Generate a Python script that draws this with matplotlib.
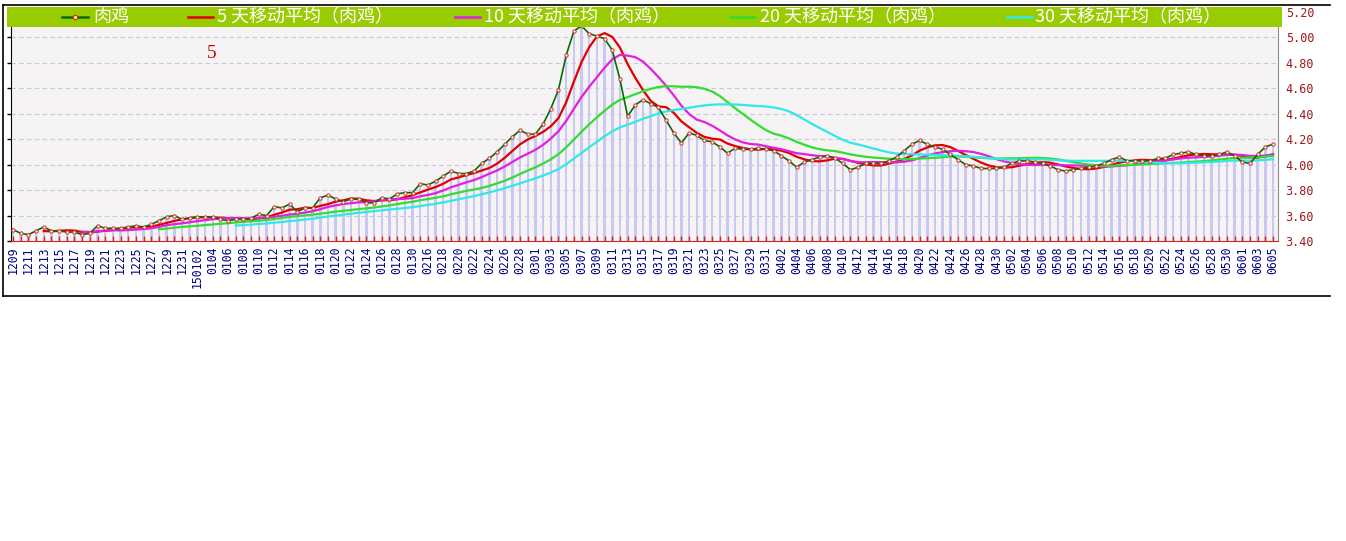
import matplotlib
matplotlib.use("Agg")
import matplotlib.pyplot as plt
from matplotlib.lines import Line2D
from matplotlib.patches import Rectangle
import numpy as np
import pandas as pd

# 日期标签（每隔一天显示一次）
labels = ["1209", "1211", "1213", "1215", "1217", "1219", "1221", "1223", "1225", "1227",
          "1229", "1231", "150102", "0104", "0106", "0108", "0110", "0112", "0114", "0116",
          "0118", "0120", "0122", "0124", "0126", "0128", "0130", "0216", "0218", "0220",
          "0222", "0224", "0226", "0228", "0301", "0303", "0305", "0307", "0309", "0311",
          "0313", "0315", "0317", "0319", "0321", "0323", "0325", "0327", "0329", "0331",
          "0402", "0404", "0406", "0408", "0410", "0412", "0414", "0416", "0418", "0420",
          "0422", "0424", "0426", "0428", "0430", "0502", "0504", "0506", "0508", "0510",
          "0512", "0514", "0516", "0518", "0520", "0522", "0524", "0526", "0528", "0530",
          "0601", "0603", "0605"]

# 肉鸡价格（元）
price = [3.49, 3.46, 3.45, 3.48, 3.51, 3.48, 3.48, 3.47, 3.47, 3.45,
         3.46, 3.52, 3.50, 3.50, 3.50, 3.51, 3.52, 3.51, 3.53, 3.56,
         3.59, 3.60, 3.57, 3.58, 3.59, 3.59, 3.59, 3.57, 3.56, 3.57,
         3.57, 3.58, 3.61,
         3.60, 3.67, 3.66, 3.69, 3.63, 3.66, 3.66, 3.74, 3.76, 3.73,
         3.71, 3.73, 3.73, 3.70, 3.70, 3.74, 3.73, 3.77, 3.78, 3.78,
         3.85, 3.84, 3.87, 3.91, 3.95, 3.93, 3.93, 3.95, 4.01, 4.05,
         4.10, 4.16,
         4.22, 4.27, 4.24, 4.24, 4.32, 4.44, 4.59, 4.86, 5.05, 5.09,
         5.03, 5.01, 4.99, 4.90, 4.67, 4.38, 4.47, 4.51, 4.48, 4.45,
         4.35, 4.25, 4.17, 4.25, 4.23, 4.19, 4.18, 4.14, 4.09, 4.13,
         4.12,
         4.12, 4.13, 4.12, 4.11, 4.07, 4.03, 3.98, 4.02, 4.04, 4.06,
         4.07, 4.05, 4.01, 3.96, 3.98, 4.01, 4.01, 4.01, 4.03, 4.06,
         4.11, 4.16, 4.19, 4.16, 4.14, 4.12, 4.08, 4.04, 4.00, 3.99,
         3.97, 3.97, 3.97, 3.98,
         4.01, 4.03, 4.03, 4.02, 4.01, 3.99, 3.96, 3.95, 3.96, 3.97,
         3.98, 3.99, 4.01, 4.04, 4.06, 4.03, 4.03, 4.03, 4.03, 4.05,
         4.05, 4.08, 4.09, 4.10, 4.08, 4.07, 4.07, 4.08, 4.10, 4.07,
         4.02, 4.01, 4.08, 4.14, 4.16]

ma_days = [5, 10, 20, 30]
ma_colors = ["#e00000", "#e020e0", "#30dd30", "#30e8e8"]
yticks = [3.40, 3.60, 3.80, 4.00, 4.20, 4.40, 4.60, 4.80, 5.00, 5.20]

W, H = 1346, 541
cjk = ["Noto Sans CJK SC", "DejaVu Sans"]


def fx(px):
    return px / W


def fy(py):
    return 1 - py / H


fig = plt.figure(figsize=(W / 100, H / 100), dpi=100)
fig.patch.set_facecolor("white")

# 坐标区：y 从 3.40(241px) 到 5.20(12px)
ax = fig.add_axes([fx(10.7), fy(241), fx(1278) - fx(10.7), fy(12) - fy(241)])
ax.set_facecolor("#f5f3f3")

n = len(price)
x = np.arange(n)
s = pd.Series(price)

# 淡紫色柱
ax.bar(x, s - 3.40, bottom=3.40, width=0.32, color="#c8c8f2", zorder=1)

for yv in yticks[1:-1]:
    ax.axhline(yv, color="#c8c8e0", lw=0.8, ls=(0, (4, 3)), zorder=0.5)

# 移动平均
for d, c in zip(ma_days, ma_colors):
    ax.plot(x, s.rolling(d).mean(), color=c, lw=1.6, zorder=3)

ax.plot(x, price, color="#0a6a0a", lw=1.2, zorder=4,
        marker="o", ms=2.4, mfc="#fffbe8", mec="#d03030", mew=0.7)

ax.set_xlim(-0.3, 164.65)
ax.set_ylim(3.40, 5.20)

ax.set_yticks(yticks)
ax.set_yticklabels([f"{v:.2f}" for v in yticks])
ax.tick_params(axis="y", left=True, right=False, labelleft=False, labelright=True,
               length=3, direction="out", pad=2.5, labelsize=8.5, labelcolor="#a01818",
               color="black", width=1)
for t in ax.get_yticklabels():
    t.set_family("DejaVu Sans Mono")

ax.set_xticks(np.arange(0, n, 2))
ax.set_xticks(np.arange(1, n, 2), minor=True)
ax.set_xticklabels(labels, rotation=90, va="top", ha="center",
                   family="DejaVu Sans Mono", fontsize=8.3, color="#000080")
ax.tick_params(axis="x", which="both", direction="in", length=3.5,
               color="#dd2020", width=1, pad=4)

ax.spines["top"].set_visible(False)
ax.spines["left"].set_color("black")
ax.spines["right"].set_color("#8a8a8a")
ax.spines["bottom"].set_color("#dd2020")

# 外框
for (x0, y0, x1, y1) in [(3, 5, 1330, 5), (3, 5, 3, 296), (3, 296, 1330, 296)]:
    fig.add_artist(Line2D([fx(x0), fx(x1)], [fy(y0), fy(y1)], color="black", lw=1.2))

# 图例条
fig.add_artist(Rectangle((fx(7), fy(27)), fx(1282) - fx(7), fy(7) - fy(27),
                         facecolor="#99cc00", edgecolor="none", zorder=5))

ly = 17
legend_items = [
    (62, 88, 93, "肉鸡", "#0a6a0a", True),
    (188, 213, 217, "5 天移动平均（肉鸡）", ma_colors[0], False),
    (455, 480, 484, "10 天移动平均（肉鸡）", ma_colors[1], False),
    (730, 755, 760, "20 天移动平均（肉鸡）", ma_colors[2], False),
    (1007, 1032, 1035, "30 天移动平均（肉鸡）", ma_colors[3], False),
]
for l0, l1, tx, txt, c, mk in legend_items:
    fig.add_artist(Line2D([fx(l0), fx(l1)], [fy(ly), fy(ly)], color=c, lw=1.8, zorder=6))
    if mk:
        fig.add_artist(Line2D([fx((l0 + l1) / 2)], [fy(ly)], marker="o", ms=3.2,
                              mfc="#ffee44", mec="#d03030", mew=0.8, zorder=7))
    fig.text(fx(tx), fy(ly), txt, color="white", fontsize=13, family=cjk,
             va="center", ha="left", zorder=7)

fig.text(fx(212), fy(54), "5", color="#cc0000", fontsize=14,
         family="Liberation Serif", ha="center", va="center")

fig.savefig("out.png", dpi=100)
